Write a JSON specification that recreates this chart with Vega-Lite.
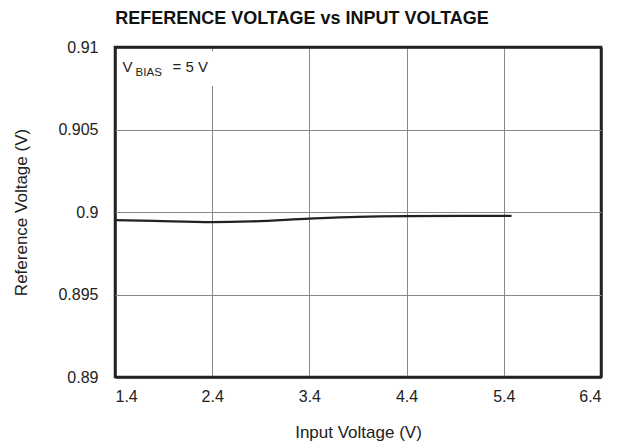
{
  "$schema": "https://vega.github.io/schema/vega-lite/v6.json",
  "autosize": "none",
  "width": 486,
  "height": 330,
  "padding": {"left": 115, "top": 47, "right": 23, "bottom": 68},
  "background": "white",
  "config": {
    "font": "Liberation Sans",
    "view": {"stroke": "#222", "strokeWidth": 2.5},
    "axis": {"labelFont": "Liberation Sans", "titleFont": "Liberation Sans", "labelFontSize": 16, "titleFontSize": 17, "titleFontWeight": "normal", "labelColor": "#222", "titleColor": "#222", "gridOpacity": 1, "ticks": false, "domain": false}
  },
  "title": {"text": "REFERENCE VOLTAGE vs INPUT VOLTAGE", "font": "Liberation Sans", "fontSize": 18, "fontWeight": "bold", "color": "#111", "offset": 11, "anchor": "middle", "dx": -56},
  "layer": [
    {
      "data": {"values": [
        {"vin": 1.4, "vref": 0.89951},
        {"vin": 1.8, "vref": 0.89946},
        {"vin": 2.4, "vref": 0.89939},
        {"vin": 2.8, "vref": 0.89943},
        {"vin": 3.4, "vref": 0.89960},
        {"vin": 3.9, "vref": 0.89971},
        {"vin": 4.4, "vref": 0.89975},
        {"vin": 5.0, "vref": 0.89976},
        {"vin": 5.48, "vref": 0.89976}
      ]},
      "mark": {"type": "line", "color": "#222", "strokeWidth": 2.3, "interpolate": "monotone"},
      "encoding": {
        "x": {"field": "vin", "type": "quantitative", "scale": {"domain": [1.4, 6.4], "nice": false, "zero": false}, "axis": {"values": [1.4, 2.4, 3.4, 4.4, 5.4, 6.4], "format": ".1f", "title": "Input Voltage (V)", "labelPadding": 11, "titlePadding": 20,
          "gridColor": {"condition": {"test": "datum.value <= 1.41 || datum.value >= 6.39", "value": "#222"}, "value": "#888"},
          "gridWidth": {"condition": {"test": "datum.value <= 1.41 || datum.value >= 6.39", "value": 2.5}, "value": 1}}},
        "y": {"field": "vref", "type": "quantitative", "scale": {"domain": [0.89, 0.91], "nice": false, "zero": false}, "axis": {"values": [0.89, 0.895, 0.9, 0.905, 0.91], "format": "~g", "title": "Reference Voltage (V)", "labelPadding": 17, "titlePadding": 27, "labelFlush": false,
          "gridColor": {"condition": {"test": "datum.value <= 0.8901 || datum.value >= 0.9099", "value": "#222"}, "value": "#888"},
          "gridWidth": {"condition": {"test": "datum.value <= 0.8901 || datum.value >= 0.9099", "value": 2.5}, "value": 1}}}
      }
    },
    {
      "data": {"values": [{}]},
      "mark": {"type": "rect", "fill": "white"},
      "encoding": {
        "x": {"datum": 1.45, "type": "quantitative"},
        "x2": {"datum": 2.45},
        "y": {"datum": 0.90975, "type": "quantitative"},
        "y2": {"datum": 0.90764}
      }
    },
    {
      "data": {"values": [{}]},
      "mark": {"type": "text", "fontSize": 15, "align": "left", "baseline": "alphabetic", "color": "#222", "text": "V"},
      "encoding": {"x": {"datum": 1.477, "type": "quantitative"}, "y": {"datum": 0.90848, "type": "quantitative"}}
    },
    {
      "data": {"values": [{}]},
      "mark": {"type": "text", "fontSize": 11.5, "align": "left", "baseline": "alphabetic", "color": "#222", "text": "BIAS"},
      "encoding": {"x": {"datum": 1.612, "type": "quantitative"}, "y": {"datum": 0.90824, "type": "quantitative"}}
    },
    {
      "data": {"values": [{}]},
      "mark": {"type": "text", "fontSize": 15, "align": "left", "baseline": "alphabetic", "color": "#222", "text": "= 5 V"},
      "encoding": {"x": {"datum": 1.992, "type": "quantitative"}, "y": {"datum": 0.90848, "type": "quantitative"}}
    }
  ]
}
